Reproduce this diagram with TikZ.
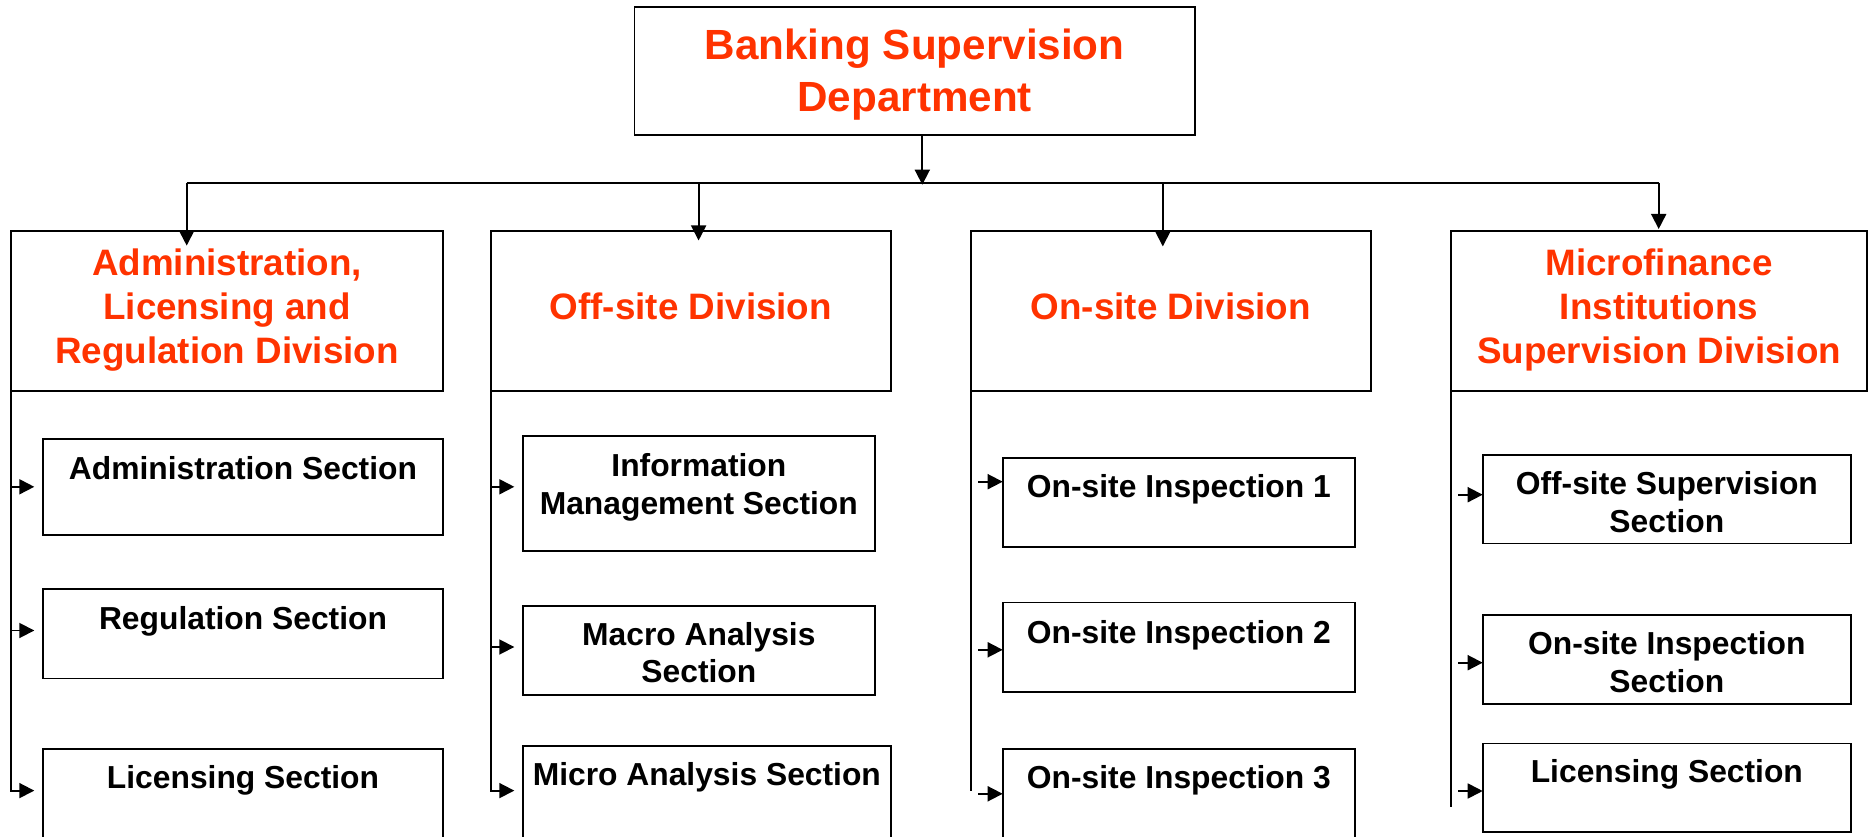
\documentclass[tikz,border=0pt]{standalone}
\usepackage{fontspec}
\setmainfont{Liberation Sans}
\usetikzlibrary{arrows.meta}
\definecolor{headred}{HTML}{FF3300}
% centred block of lines whose reference point is the first baseline
\newcommand\mlines[1]{\begin{tabular}[t]{@{}c@{}}#1\end{tabular}}

\begin{document}
\begin{tikzpicture}[x=1pt,y=-1pt,
  box/.style={draw, line width=1.8pt, inner sep=0pt, outer sep=0pt, anchor=north west},
  link/.style={line width=1.8pt},
  arr/.style={line width=1.8pt, -{Triangle[length=15pt,width=15pt]}},
  toptxt/.style={inner sep=0pt, anchor=base, text=headred, font=\fontsize{42.2}{52.4}\selectfont\bfseries},
  divtxt/.style={inner sep=0pt, anchor=base, text=headred, font=\fontsize{36.8}{44.3}\selectfont\bfseries},
  sectxt/.style={inner sep=0pt, anchor=base, text=black, font=\fontsize{31.8}{37.8}\selectfont\bfseries}]

\useasboundingbox (0,0) rectangle (1869,837);
\clip (0,0) rectangle (1869,837);

% department
\node[box, minimum width=560.3pt, minimum height=128.3pt] (bsd) at (634.5,6.7) {};
\node[toptxt] (bsdt) at (bsd.north |- 0,59.3) {\mlines{Banking Supervision\\Department}};

% divisions
\node[box, minimum width=432.6pt, minimum height=160.2pt] (d1) at (10.7,231) {};
\node[box, minimum width=400.3pt, minimum height=160.2pt] (d2) at (490.7,231) {};
\node[box, minimum width=400.3pt, minimum height=160.2pt] (d3) at (970.7,231) {};
\node[box, minimum width=416.6pt, minimum height=160.2pt] (d4) at (1450.7,231) {};
\node[divtxt] (d1t) at (d1.north |- 0,275.1) {\mlines{Administration,\\Licensing and\\Regulation Division}};
\node[divtxt] (d2t) at (d2.north |- 0,319.2) {Off-site Division};
\node[divtxt] (d3t) at (d3.north |- 0,319.2) {On-site Division};
\node[divtxt] (d4t) at (d4.north |- 0,275.1) {\mlines{Microfinance\\Institutions\\Supervision Division}};

% sections: administration, licensing and regulation
\node[box, minimum width=400.6pt, minimum height=96pt]   (a1) at (42.7,438.8) {};
\node[box, minimum width=400.6pt, minimum height=89.4pt] (a2) at (42.7,589.1) {};
\node[box, minimum width=400.6pt, minimum height=200pt]  (a3) at (42.7,749.3) {};
\node[sectxt] (a1t) at (a1.north |- 0,479)   {Administration Section};
\node[sectxt] (a2t) at (a2.north |- 0,629.3) {Regulation Section};
\node[sectxt] (a3t) at (a3.north |- 0,788.7) {Licensing Section};

% sections: off-site
\node[box, minimum width=352.3pt, minimum height=114.9pt] (b1) at (522.7,435.7) {};
\node[box, minimum width=352.3pt, minimum height=89.3pt]  (b2) at (522.7,605.7) {};
\node[box, minimum width=368.3pt, minimum height=200pt]   (b3) at (522.7,745.8) {};
\node[sectxt] (b1t) at (b1.north |- 0,476.6) {\mlines{Information\\Management Section}};
\node[sectxt] (b2t) at (b2.north |- 0,645)   {\mlines{Macro Analysis\\Section}};
\node[sectxt] (b3t) at (b3.north |- 0,785.5) {Micro Analysis Section};

% sections: on-site
\node[box, minimum width=352.3pt, minimum height=88.5pt] (c1) at (1002.7,458.1) {};
\node[box, minimum width=352.3pt, minimum height=89.8pt] (c2) at (1002.7,602.5) {};
\node[box, minimum width=352.3pt, minimum height=200pt]  (c3) at (1002.7,749.3) {};
\node[sectxt] (c1t) at (c1.north |- 0,497.4) {On-site Inspection 1};
\node[sectxt] (c2t) at (c2.north |- 0,643)   {On-site Inspection 2};
\node[sectxt] (c3t) at (c3.north |- 0,788.7) {On-site Inspection 3};

% sections: microfinance institutions supervision
\node[box, minimum width=368.3pt, minimum height=88.2pt] (e1) at (1482.7,455.3) {};
\node[box, minimum width=368.3pt, minimum height=89.3pt] (e2) at (1482.7,614.7) {};
\node[box, minimum width=368.3pt, minimum height=88.3pt] (e3) at (1482.7,743.4) {};
\node[sectxt] (e1t) at (e1.north |- 0,494.3) {\mlines{Off-site Supervision\\Section}};
\node[sectxt] (e2t) at (e2.north |- 0,654.9) {\mlines{On-site Inspection\\Section}};
\node[sectxt] (e3t) at (e3.north |- 0,782.8) {Licensing Section};

% department to divisions
\coordinate (hub) at (922.3,182.7);
\coordinate (j1) at (186.7,182.7);
\coordinate (j2) at (698.6,182.7);
\coordinate (j3) at (1162.8,182.7);
\coordinate (j4) at (1658.7,182.7);
\draw[arr, shorten >=-2pt] (bsd.south -| hub) -- (hub);
\draw[link] (j1) -- (j4);
\draw[arr, shorten >=-14.6pt] (j1) -- (j1 |- d1.north);
\draw[arr, shorten >=-9.5pt]  (j2) -- (j2 |- d2.north);
\draw[arr, shorten >=-15.4pt] (j3) -- (j3 |- d3.north);
\draw[arr, shorten >=2pt]     (j4) -- (j4 |- d4.north);

% divisions to sections
\draw[arr, shorten >=8.4pt] (d1.south west) |- (a3.west |- 0,790.6);
\draw[arr, shorten >=8.4pt] (d1.south west |- 0,486.8) -- (a1.west |- 0,486.8);
\draw[arr, shorten >=8.4pt] (d1.south west |- 0,630.5) -- (a2.west |- 0,630.5);

\draw[arr, shorten >=8.4pt] (d2.south west) |- (b3.west |- 0,790.6);
\draw[arr, shorten >=8.4pt] (d2.south west |- 0,486.8) -- (b1.west |- 0,486.8);
\draw[arr, shorten >=8.4pt] (d2.south west |- 0,647) -- (b2.west |- 0,647);

\draw[link] (d3.south west) -- (d3.south west |- 0,790.6);
\draw[arr, shorten <=7.3pt] (d3.south west |- 0,481.7) -- (c1.west |- 0,481.7);
\draw[arr, shorten <=7.3pt] (d3.south west |- 0,649.8) -- (c2.west |- 0,649.8);
\draw[arr, shorten <=7.3pt] (d3.south west |- 0,793.8) -- (c3.west |- 0,793.8);

\draw[link] (d4.south west) -- (d4.south west |- 0,807.3);
\draw[arr, shorten <=7.3pt] (d4.south west |- 0,494.7) -- (e1.west |- 0,494.7);
\draw[arr, shorten <=7.3pt] (d4.south west |- 0,662.7) -- (e2.west |- 0,662.7);
\draw[arr, shorten <=7.3pt] (d4.south west |- 0,791) -- (e3.west |- 0,791);
\end{tikzpicture}
\end{document}
